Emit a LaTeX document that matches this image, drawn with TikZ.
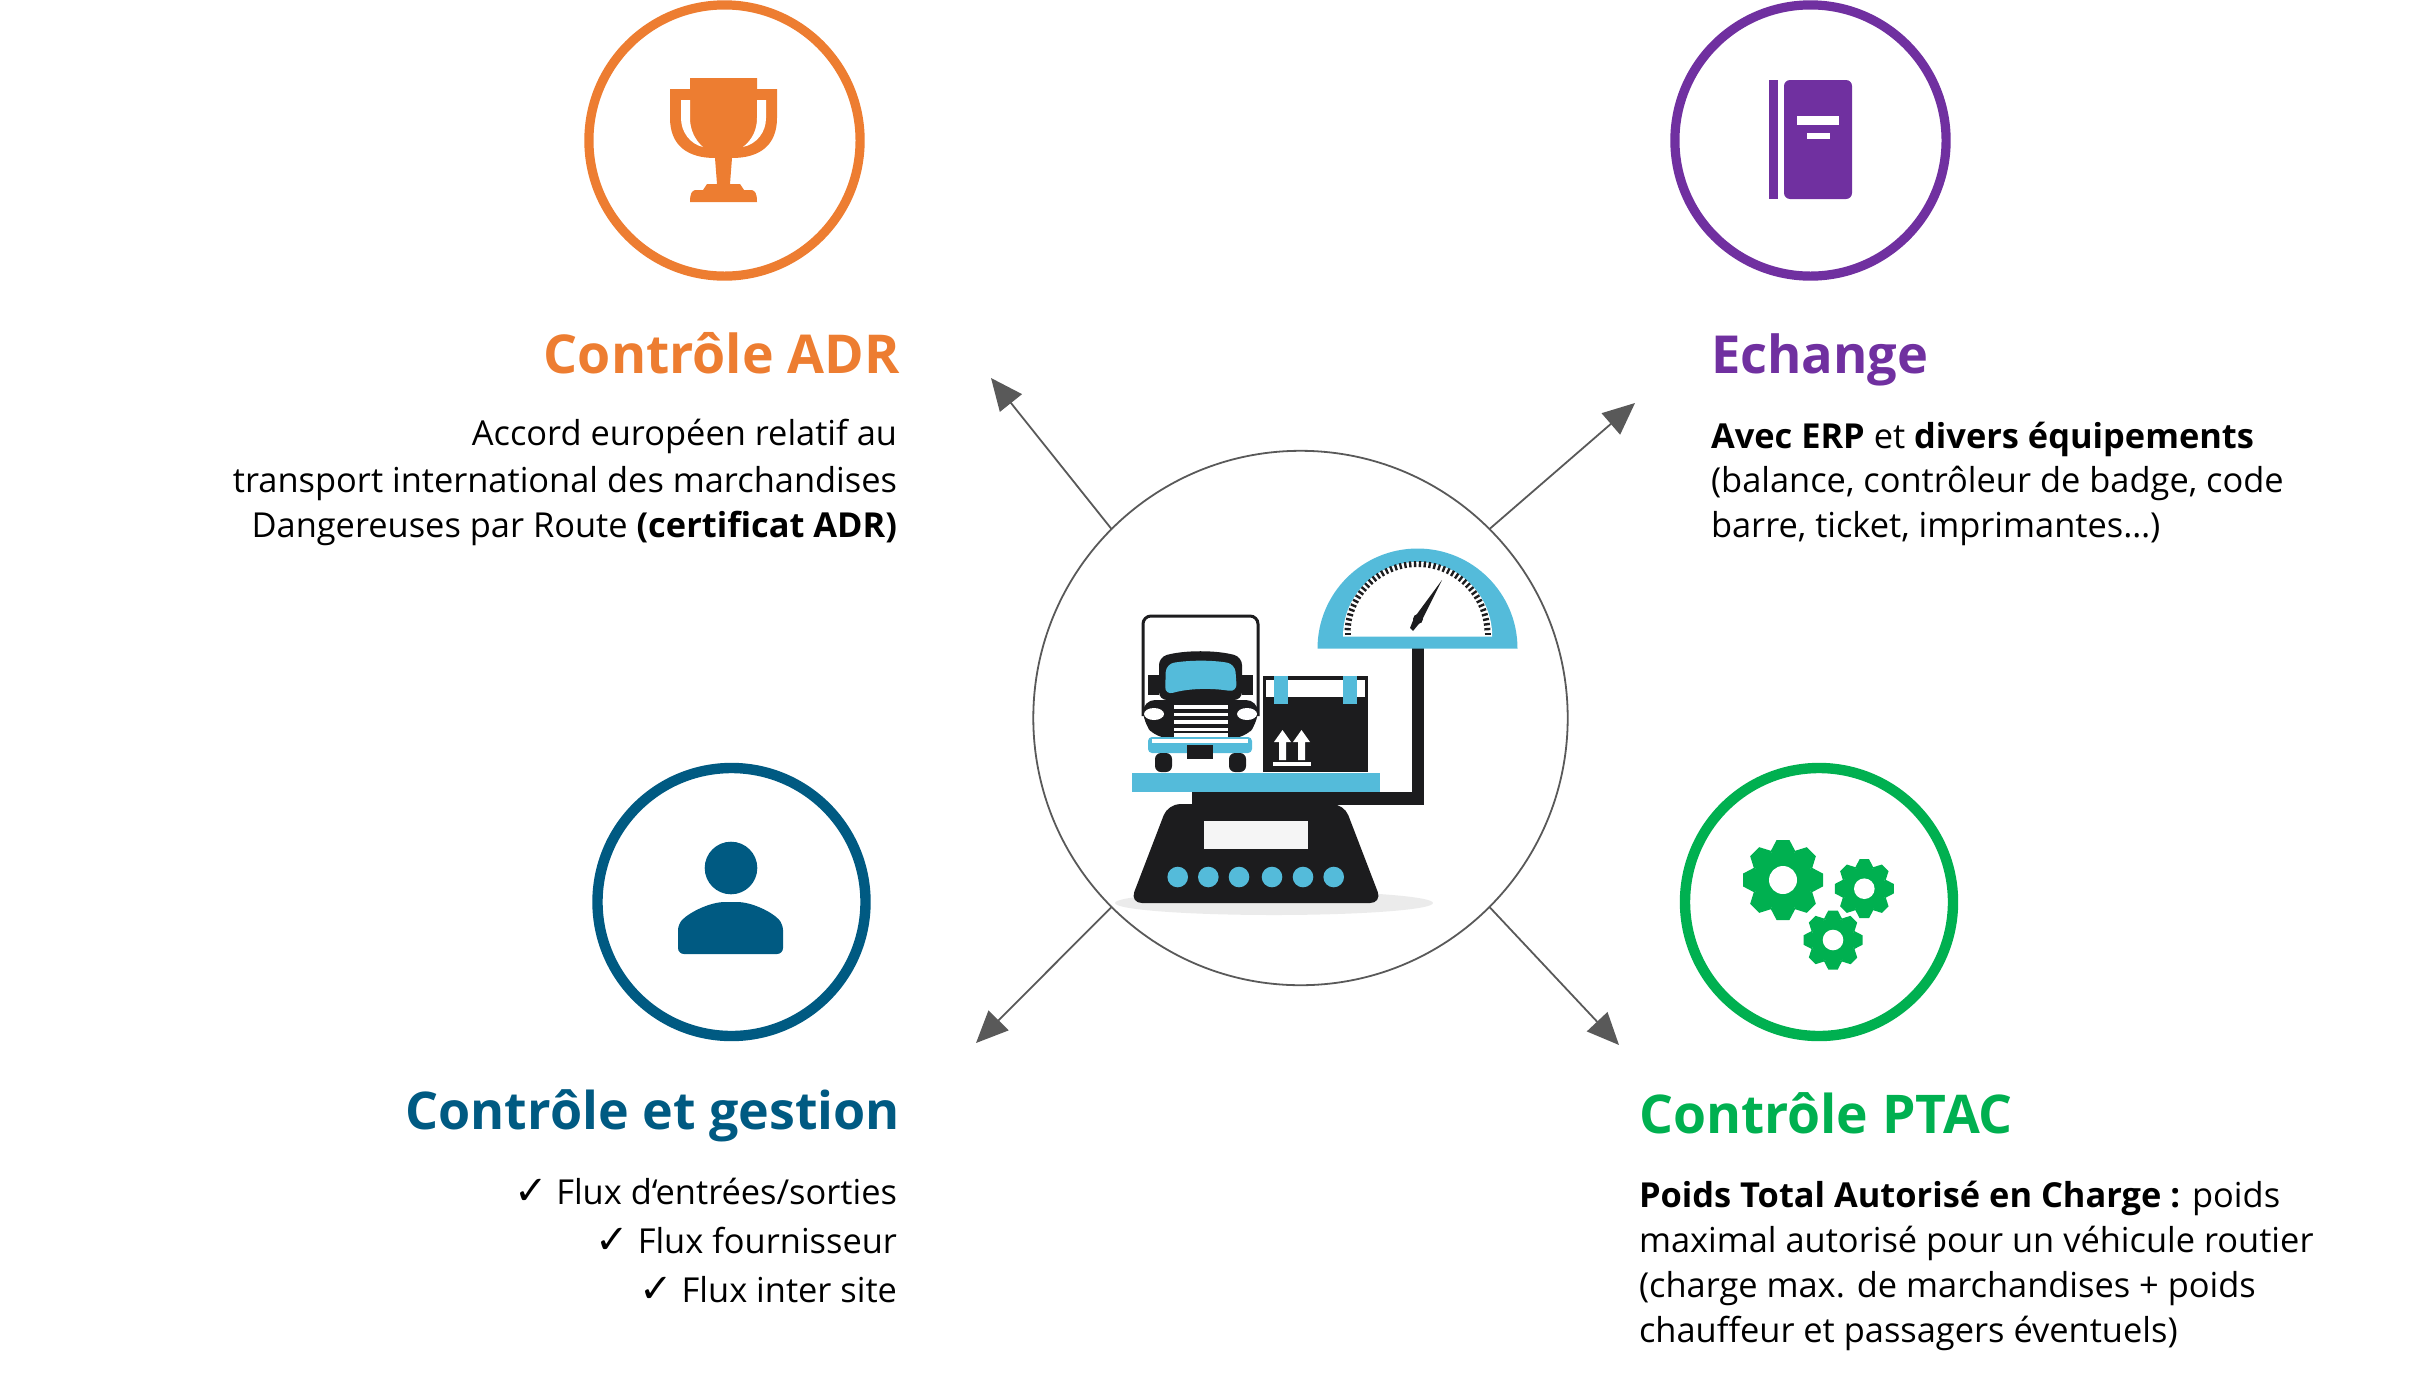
\documentclass[tikz,border=0pt]{standalone}
\usepackage{fontspec}
\setmainfont{Open Sans}
\newfontfamily\checkfont{DejaVu Sans}
\usetikzlibrary{arrows.meta}
\definecolor{cOrange}{HTML}{ED7D31}
\definecolor{cPurple}{HTML}{7030A0}
\definecolor{cBlue}{HTML}{005A82}
\definecolor{cGreen}{HTML}{00B050}
\definecolor{cSky}{HTML}{54BBDA}
\definecolor{cInk}{HTML}{1C1C1E}
\definecolor{cArrow}{HTML}{595959}
\tikzset{
  x=.25pt,y=-.25pt,
  ring/.style={circle,draw=#1,line width=2.3pt,minimum size=67.8pt,inner sep=0pt,outer sep=0pt},
  thickring/.style={circle,draw=#1,line width=2.6pt,minimum size=67pt,inner sep=0pt,outer sep=0pt},
  hubring/.style={circle,draw=cArrow,line width=.45pt,minimum size=133.6pt,inner sep=0pt,outer sep=0pt},
  link/.style={draw=cArrow,line width=.45pt,-{Triangle[length=8pt,width=7pt,fill=cArrow]}},
  heading/.style={font=\fontsize{#1}{16}\selectfont\bfseries,inner sep=0pt,outer sep=0pt},
  body/.style={font=\fontsize{8.6}{11.25}\selectfont,text=black,inner sep=0pt,outer sep=0pt},
}
\newcommand{\cog}[5]{%
  \begin{scope}[shift={(#1,#2)}]
    \fill[cGreen] (0,0) circle (#4);
    \foreach \a in {0,45,...,315}{
      \fill[cGreen,rotate=\a] (#4*.93,-#3*.32) -- (#3,-#3*.16) -- (#3,#3*.16) -- (#4*.93,#3*.32) -- cycle;
    }
    \fill[white] (0,0) circle (#5);
  \end{scope}}
\newcommand{\tick}{\makebox[10.5pt][l]{\checkfont\fontsize{10}{10}\selectfont ✓}}
\begin{document}
\begin{tikzpicture}
\useasboundingbox (0,0) rectangle (2420,1372);
% central circle and arrows
\node[hubring] (hub) at (1300.5,718) {};
\coordinate (tipA) at (991,378);
\coordinate (tipB) at (1635,403);
\coordinate (tipC) at (976,1043);
\coordinate (tipD) at (1619,1045);
\draw[link] (hub.135) -- (tipA);
\draw[link] (hub.45) -- (tipB);
\draw[link] (hub.225) -- (tipC);
\draw[link] (hub.315) -- (tipD);
% scale picture
\fill[black!8] (1274,903) ellipse (159 and 12);
\fill[cInk] (1412,648) rectangle (1424,804);
\fill[cInk] (1192,792) rectangle (1424,805);
\fill[cInk,rounded corners=3pt] (1130,903) -- (1168,804) -- (1344,804) -- (1382,903) -- cycle;
\fill[cSky] (1132,773) rectangle (1380,792);
\fill[white!96!black] (1204,821) rectangle (1308,849);
\foreach \bx in {1177.7,1208.3,1239,1272,1303,1333.7}{\fill[cSky] (\bx,877) circle (10.3);}
% gauge
\fill[cSky] (1317.5,648.5) arc[start angle=180,end angle=0,radius=25pt] -- cycle;
\fill[white] (1343,636.5) arc[start angle=180,end angle=0,radius=18.65pt] -- cycle;
\foreach \t in {0,4,...,180}{
  \draw[cInk,line width=.6pt] ({1417.5+67*cos(\t)},{634-67*sin(\t)}) -- ({1417.5+73*cos(\t)},{634-73*sin(\t)});
}
\fill[cInk] (1410,628) -- (1413,631) -- (1422,620) -- (1442,580) -- (1414,618) -- cycle;
\fill[cInk] (1418,619) circle (5);
% truck
\draw[cInk,line width=.75pt,rounded corners=2pt] (1143,716) -- (1143,616) -- (1258,616) -- (1258,716);
\fill[cInk] (1148,675) rectangle (1159,695);
\fill[cInk] (1242,675) rectangle (1253,695);
\fill[cInk,rounded corners=2pt] (1159,700) -- (1159,657) .. controls (1185,650) and (1216,650) .. (1242,657) -- (1242,700) -- cycle;
\fill[cInk,rounded corners=3pt] (1143,700) -- (1258,700) -- (1258,722) -- (1245,738) -- (1156,738) -- (1143,722) -- cycle;
\fill[cSky,rounded corners=2pt] (1166,664) .. controls (1190,660) and (1212,660) .. (1235,664) -- (1237,692) .. controls (1212,688) and (1190,688) .. (1165,695) -- cycle;
\fill[white] (1154,714) ellipse (10 and 6);
\fill[white] (1247,714) ellipse (10 and 6);
\foreach \gy in {705,712.5,720,727.5,733}{\fill[white] (1174,\gy) rectangle (1228,\gy+3.6);}
\fill[cSky,rounded corners=1pt] (1148,737) rectangle (1252,753);
\fill[white] (1152,739) rectangle (1248,743);
\fill[cInk,rounded corners=1.5pt] (1155,753) rectangle (1172,772);
\fill[cInk,rounded corners=1.5pt] (1229,753) rectangle (1246,772);
\fill[cInk] (1187,745) rectangle (1213,759);
% parcel
\fill[cInk] (1263,676) rectangle (1368,772);
\fill[white] (1266,680) rectangle (1365,697);
\fill[cSky] (1274,676) rectangle (1288,704);
\fill[cSky] (1343,676) rectangle (1357,704);
\foreach \ax in {1282.5,1301.5}{
  \fill[white] (\ax-8.5,742) -- (\ax,730) -- (\ax+8.5,742) -- (\ax+3.5,742) -- (\ax+3.5,760) -- (\ax-3.5,760) -- (\ax-3.5,742) -- cycle;
}
\fill[white] (1273,762) rectangle (1311,766);
% icon rings
\node[ring=cOrange] (adr) at (724.5,140.5) {};
\node[ring=cPurple] (ech) at (1810.5,140.5) {};
\node[thickring=cBlue] (ges) at (731.5,902) {};
\node[thickring=cGreen] (pta) at (1819,902) {};
% trophy
\fill[cOrange] (670,89) -- (690,89) -- (690,78) -- (757,78) -- (757,89) -- (777,89) -- (777,118) .. controls (777,145) and (760,158) .. (732,158) -- (730,184) -- (740,184) -- (744,190) -- (752,190) .. controls (755,191) and (757,193) .. (757,202) -- (690,202) .. controls (690,193) and (692,191) .. (695,190) -- (703,190) -- (707,184) -- (717,184) -- (715,158) .. controls (687,158) and (670,145) .. (670,118) -- cycle;
\fill[white] (681,100) -- (690,100) -- (690,118) .. controls (690,130) and (695,140) .. (703,147) .. controls (690,144) and (681,132) .. (681,118) -- cycle;
\fill[white] (766,100) -- (757,100) -- (757,118) .. controls (757,130) and (752,140) .. (743,147) .. controls (757,144) and (766,132) .. (766,118) -- cycle;
% book
\fill[cPurple] (1769,80) rectangle (1778,199);
\fill[cPurple,rounded corners=1.5pt] (1784,80) -- (1852,80) -- (1852,199) -- (1784,199) -- cycle;
\fill[white] (1797,116) rectangle (1839,125);
\fill[white] (1807,133) rectangle (1830,139);
% person
\fill[cBlue] (731,868) circle (26.3);
\fill[cBlue,rounded corners=1.5pt] (678,954) -- (678,924) .. controls (690,912) and (710,902) .. (731,902) .. controls (752,902) and (772,912) .. (783,924) -- (783,954) -- cycle;
% gears
\cog{1783}{880}{40}{30}{14}
\cog{1864.3}{888.7}{29.5}{22}{10.3}
\cog{1833}{940}{29.5}{22}{10.3}
% texts
\node[heading=13.4,text=cOrange,anchor=base east] (t1) at (900,373) {Contrôle ADR};
\node[body,anchor=base east,align=right] (b1) at (897,537) {Accord européen relatif au\\[.5pt]transport international des marchandises\\Dangereuses par Route \textbf{(certificat ADR)}};
\node[heading=13.1,text=cPurple,anchor=base west] (t2) at (1711,373) {Echange};
\node[body,anchor=base west,align=left] (b2) at (1711,537) {\textbf{Avec ERP} et \textbf{divers équipements}\\[-.3pt](balance, contrôleur de badge, code\\barre, ticket, imprimantes…)};
\node[heading=13,text=cBlue,anchor=base east] (t3) at (900,1129) {Contrôle et gestion};
\node[body,anchor=base east,align=right] (b3) at (897,1302) {\tick Flux d‘entrées/sorties\\[1pt]\tick Flux fournisseur\\[1pt]\tick Flux inter site};
\node[heading=13.35,text=cGreen,anchor=base west] (t4) at (1639,1133) {Contrôle PTAC};
\node[body,anchor=base west,align=left] (b4) at (1639,1342) {\textbf{Poids Total Autorisé en Charge :} poids\\maximal autorisé pour un véhicule routier\\(charge max. de marchandises + poids\\chauffeur et passagers éventuels)};
\end{tikzpicture}
\end{document}
